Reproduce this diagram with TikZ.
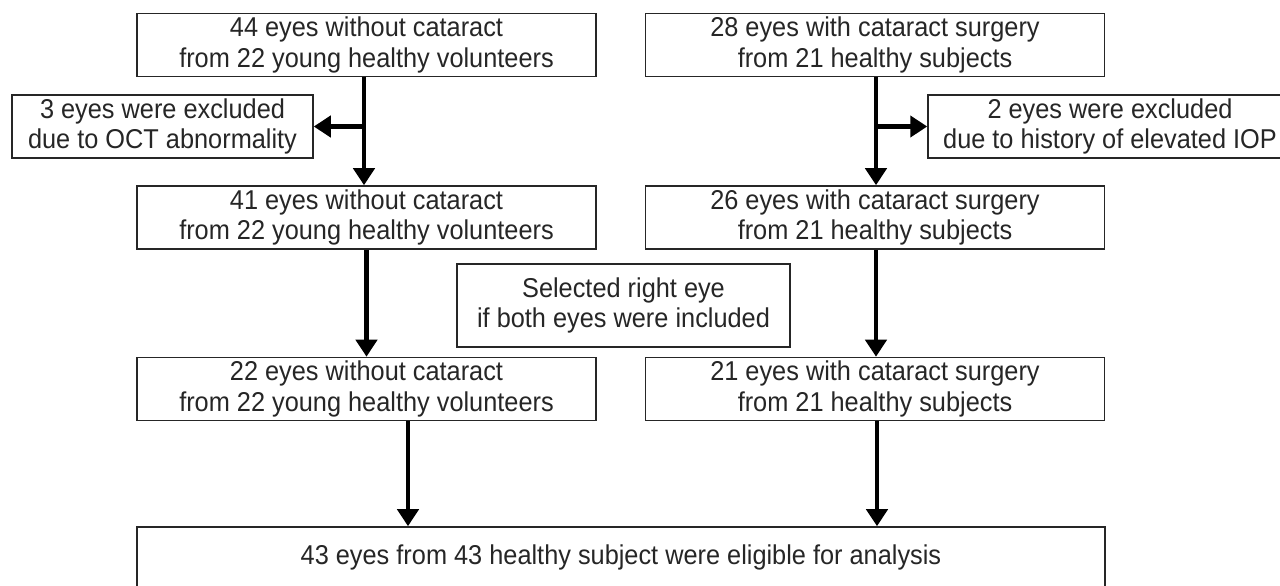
\documentclass[tikz,border=0pt]{standalone}
\usepackage{fontspec}
\setmainfont{Liberation Sans}[FakeStretch=0.93]
\usetikzlibrary{arrows.meta,calc}
\begin{document}
\begin{tikzpicture}[x=0.02cm,y=-0.02cm,
 box/.style={draw=black!85, line width=0.9pt, align=center, inner sep=0pt,
   text=black!85, font=\fontsize{15.5}{17.2}\selectfont},
 mainbox/.style={box, minimum width=9.18cm, minimum height=1.26cm},
 arr/.style={line width=2.8pt, -{Triangle[width=0.42cm,length=0.34cm]}},
 ]
\useasboundingbox (0,0) rectangle (1280,585);
\clip (0,0) rectangle (1280,585);
\fill[white] (0,0) rectangle (1280,585);

\node[mainbox] (A1) at (366.5,45) {44 eyes without cataract\\from 22 young healthy volunteers};
\node[mainbox] (B1) at (875,45) {28 eyes with cataract surgery\\from 21 healthy subjects};
\node[box, minimum width=6.02cm, minimum height=1.26cm] (EA) at (162.5,126.5) {3 eyes were excluded\\due to OCT abnormality};
\node[box, minimum width=7.28cm, minimum height=1.26cm] (EB) at (1110,126.5) {2 eyes were excluded\\due to history of elevated IOP};
\node[mainbox] (A2) at (366.5,217.5) {41 eyes without cataract\\from 22 young healthy volunteers};
\node[mainbox] (B2) at (875,217.5) {26 eyes with cataract surgery\\from 21 healthy subjects};
\node[box, minimum width=6.66cm, minimum height=1.66cm] (S) at (623.5,305.5) {Selected right eye\\if both eyes were included};
\node[mainbox] (A3) at (366.5,389) {22 eyes without cataract\\from 22 young healthy volunteers};
\node[mainbox] (B3) at (875,389) {21 eyes with cataract surgery\\from 21 healthy subjects};
\node[box, minimum width=19.36cm, minimum height=1.22cm] (F) at (621,557.5) {43 eyes from 43 healthy subject were eligible for analysis};

\draw[arr] ([xshift=-0.05cm]A1.south) -- ([xshift=-0.05cm]A2.north);
\draw[arr] ([xshift=-0.05cm]A1.south |- EA.east) -- (EA.east);
\draw[arr] ([xshift=0.02cm]B1.south) -- ([xshift=0.02cm]B2.north);
\draw[arr] ([xshift=0.02cm]B1.south |- EB.west) -- (EB.west);
\draw[arr] (A2.south) -- (A3.north);
\draw[arr] ([xshift=0.02cm]B2.south) -- ([xshift=0.02cm]B3.north);
\draw[arr] ([xshift=0.83cm]A3.south) -- ([xshift=0.83cm]A3.south |- F.north);
\draw[arr] ([xshift=0.04cm]B3.south) -- ([xshift=0.04cm]B3.south |- F.north);
\end{tikzpicture}
\end{document}
